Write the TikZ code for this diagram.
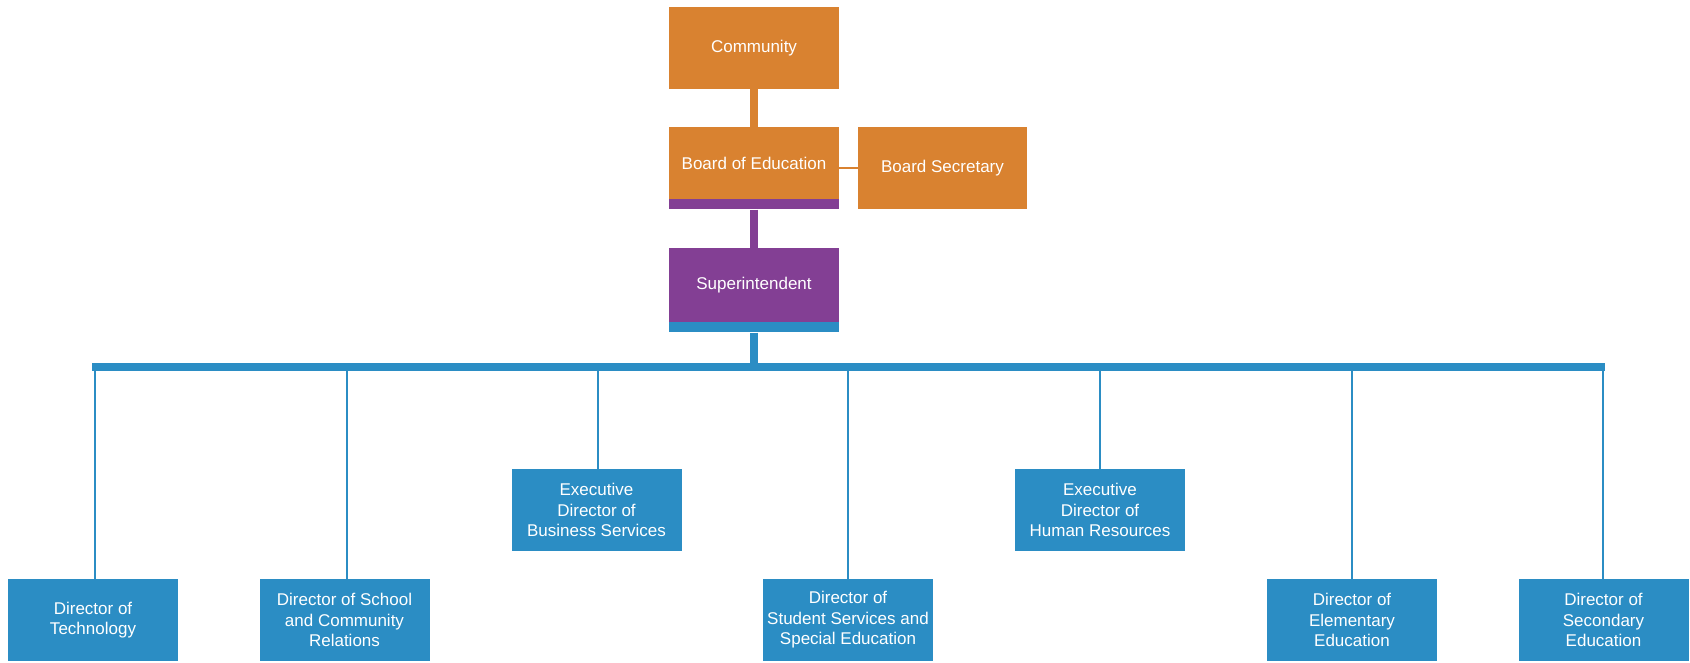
\documentclass[tikz,border=0pt]{standalone}
\usepackage{fontspec}
\setmainfont{Liberation Sans}
\definecolor{orgC}{HTML}{D98230}
\definecolor{purC}{HTML}{833F94}
\definecolor{bluC}{HTML}{2B8DC4}
\begin{document}
\begin{tikzpicture}[x=1pt,y=-1pt,
  box/.style={rectangle,inner sep=0pt,minimum width=170pt,align=center,text=white,
    font=\fontsize{17}{20.5}\selectfont},
  obox/.style={box,fill=orgC},
  pbox/.style={box,fill=purC},
  bbox/.style={box,fill=bluC,minimum height=82pt},
  strip/.style={rectangle,inner sep=0pt,minimum width=170pt,minimum height=10pt},
  thickc/.style={line width=8pt},
  thinc/.style={line width=2.5pt,draw=bluC}]
\useasboundingbox (0,0) rectangle (1690,662);
% top
\node[obox,minimum height=82pt] (comm) at (754,48) {Community};
\node[obox,minimum height=72pt] (boe) at (754,163) {Board of Education};
\node[strip,fill=purC,anchor=north] (boestrip) at (boe.south) {};
\node[obox,minimum height=82pt,minimum width=169pt] (sec) at (942.5,168) {Board Secretary};
\node[pbox,minimum height=74pt] (sup) at (754,285) {Superintendent};
\node[strip,fill=bluC,anchor=north] (supstrip) at (sup.south) {};
% connectors top
\draw[thickc,draw=orgC] (comm.south) -- (boe.north);
\draw[line width=2.5pt,draw=orgC] (boe.east |- sec.west) -- (sec.west);
\draw[thickc,draw=purC] (boestrip.south) -- (sup.north);
% bar
\coordinate (bl) at (92,367);
\coordinate (br) at (1605,367);
\coordinate (bm) at (754,367);
\draw[thickc,draw=bluC] (supstrip.south) -- ([yshift=-4pt]bm);
\draw[thickc,draw=bluC] (bl) -- (br);
% bottom level
\node[bbox] (tech) at (93,620) {Director of\\Technology};
\node[bbox] (school) at (344.5,620) {Director of School\\and Community\\Relations};
\node[bbox] (student) at (848,620) {Director of\\Student Services and\\Special Education};
\node[bbox] (elem) at (1352,620) {Director of\\Elementary\\Education};
\node[bbox] (second) at (1603.5,620) {Director of\\Secondary\\Education};
% middle level
\node[bbox] (bus) at (596.5,510) {Executive\\Director of\\Business Services};
\node[bbox] (hr) at (1100,510) {Executive\\Director of\\Human Resources};
% drops
\foreach \n/\xx in {tech/95,school/347,bus/598,student/848,hr/1100,elem/1352,second/1603}{
  \draw[thinc] (\xx,367) -- (\xx,0 |- \n.north);
}
\end{tikzpicture}
\end{document}
